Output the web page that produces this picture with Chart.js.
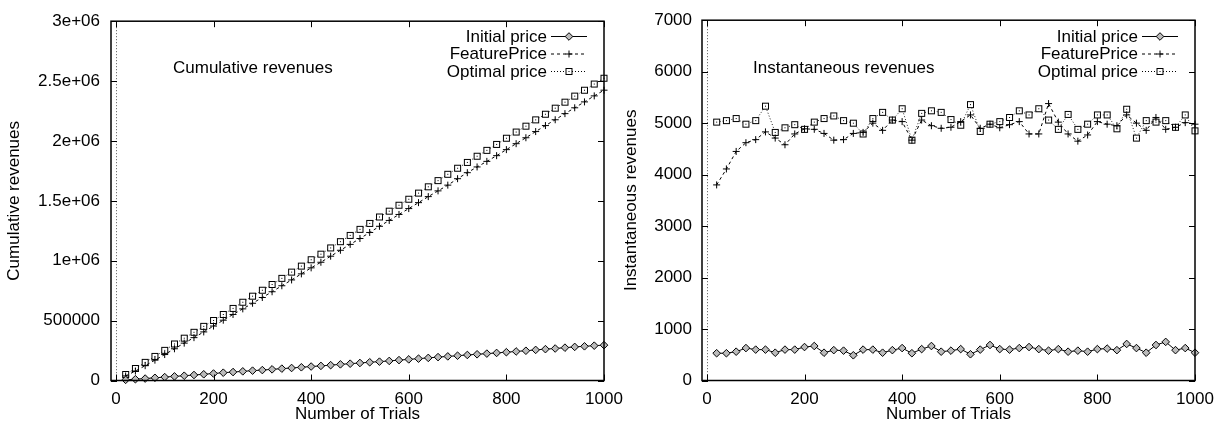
<!DOCTYPE html>
<html>
<head>
<meta charset="utf-8">
<script src="https://cdn.jsdelivr.net/npm/chart.js@4.4.1/dist/chart.umd.min.js"></script>
<style>
  html, body { margin: 0; padding: 0; background: #fff; }
  #wrap { position: relative; width: 1223px; height: 425px; overflow: hidden; }
  canvas { position: absolute; top: 0; }
</style>
</head>
<body>
<div id="wrap">
  <canvas id="cum" width="640" height="425" style="left:0px"></canvas>
  <canvas id="inst" width="603" height="425" style="left:620px"></canvas>
</div>
<script>
// x positions (number of trials)
const trials = [20, 40, 60, 80, 100, 120, 140, 160, 180, 200,
  220, 240, 260, 280, 300, 320, 340, 360, 380, 400,
  420, 440, 460, 480, 500, 520, 540, 560, 580, 600,
  620, 640, 660, 680, 700, 720, 740, 760, 780, 800,
  820, 840, 860, 880, 900, 920, 940, 960, 980, 1000];

// left panel: cumulative revenues
const cumInitial = [5300, 10600, 16200, 22500, 28500, 34500, 39900, 45900, 51900, 58400,
  65100, 70500, 76400, 82200, 87100, 93100, 99100, 104500, 110400, 116700,
  122000, 128100, 134800, 140400, 146200, 152300, 157400, 163400, 170300, 176400,
  182400, 188700, 195200, 201300, 207100, 213200, 218800, 224600, 230200, 236300,
  242500, 248400, 255500, 261800, 267200, 274100, 280600, 285500, 290800, 295200];
const cumFeature = [38000, 79100, 123600, 169800, 216600, 264900, 312000, 357800, 405700, 454600,
  503400, 551400, 598100, 644900, 692900, 741100, 791100, 839700, 890300, 940600,
  987300, 1037900, 1087400, 1136400, 1185600, 1235900, 1287500, 1336500, 1386300, 1435400,
  1485100, 1535400, 1583300, 1631200, 1685000, 1735200, 1783100, 1829600, 1877300, 1927600,
  1977400, 2026900, 2078500, 2128500, 2177100, 2228200, 2277000, 2326200, 2376300, 2424100];
const cumOptimal = [50200, 100700, 151600, 201400, 251900, 305200, 353400, 402500, 452200, 501000,
  551200, 602100, 653500, 704000, 754000, 801900, 852800, 904900, 955500, 1008300,
  1055000, 1106900, 1159300, 1211400, 1262100, 1311700, 1365300, 1413700, 1463500, 1513800,
  1564900, 1617300, 1668900, 1721700, 1772300, 1821100, 1872800, 1921600, 1971400, 2023000,
  2074600, 2123500, 2176200, 2223300, 2273800, 2324000, 2374500, 2423700, 2475300, 2523800];

// right panel: instantaneous revenues
const instInitial = [530, 530, 560, 630, 600, 600, 540, 600, 600, 650,
  670, 540, 590, 580, 490, 600, 600, 540, 590, 630,
  530, 610, 670, 560, 580, 610, 510, 600, 690, 610,
  600, 630, 650, 610, 580, 610, 560, 580, 560, 610,
  620, 590, 710, 630, 540, 690, 750, 590, 630, 540];
const instFeature = [3800, 4110, 4450, 4620, 4680, 4830, 4710, 4580, 4790, 4890,
  4880, 4800, 4670, 4680, 4800, 4820, 5000, 4860, 5060, 5030,
  4670, 5060, 4950, 4900, 4920, 5030, 5160, 4900, 4980, 4910,
  4970, 5030, 4790, 4790, 5380, 5020, 4790, 4650, 4770, 5030,
  4980, 4950, 5160, 5000, 4860, 5110, 4880, 4920, 5010, 4980];
const instOptimal = [5020, 5050, 5090, 4980, 5050, 5330, 4820, 4910, 4970, 4880,
  5020, 5090, 5140, 5050, 5000, 4790, 5090, 5210, 5060, 5280,
  4670, 5190, 5240, 5210, 5070, 4960, 5360, 4840, 4980, 5030,
  5110, 5240, 5160, 5280, 5060, 4880, 5170, 4880, 4980, 5160,
  5160, 4890, 5270, 4710, 5050, 5020, 5050, 4920, 5160, 4850];

const seriesNames = ['Initial price', 'FeaturePrice', 'Optimal price'];
const xTicks = [0, 200, 400, 600, 800, 1000];
const cumTicks = [0, 500000, 1000000, 1500000, 2000000, 2500000, 3000000];
const cumTickLabels = ['0', '500000', '1e+06', '1.5e+06', '2e+06', '2.5e+06', '3e+06'];
const instTicks = [0, 1000, 2000, 3000, 4000, 5000, 6000, 7000];
const instTickLabels = ['0', '1000', '2000', '3000', '4000', '5000', '6000', '7000'];

const FONT = '"Liberation Sans", Arial, sans-serif';
Chart.defaults.font.family = FONT;
Chart.defaults.font.size = 17;
Chart.defaults.color = '#000';

// open square with a dot in the middle (gnuplot style)
function squareMark() {
  const c = document.createElement('canvas');
  c.width = 9; c.height = 9;
  const g = c.getContext('2d');
  g.fillStyle = '#fff';
  g.fillRect(1, 1, 7, 7);
  g.strokeStyle = '#000';
  g.lineWidth = 1;
  g.strokeRect(1.5, 1.5, 6, 6);
  g.fillStyle = '#000';
  g.fillRect(4, 4, 1, 1);
  return c;
}
const SQUARE = squareMark();

function pairs(ys) {
  return ys.map((y, i) => ({ x: trials[i], y }));
}

const gnuplotFrame = {
  id: 'gnuplotFrame',
  beforeDatasetsDraw(chart) {
    const { ctx, chartArea: a, scales: { x } } = chart;
    const zx = Math.round(x.getPixelForValue(0)) + 0.5;
    ctx.save();
    ctx.strokeStyle = '#555';
    ctx.lineWidth = 1;
    ctx.setLineDash([1, 2]);
    ctx.beginPath();
    ctx.moveTo(zx, a.top);
    ctx.lineTo(zx, a.bottom);
    ctx.stroke();
    ctx.restore();
  },
  afterDatasetsDraw(chart) {
    const { ctx, chartArea: a, scales: { x, y } } = chart;
    const len = 6;
    ctx.save();
    ctx.strokeStyle = '#000';
    ctx.lineWidth = 1;
    ctx.beginPath();
    xTicks.forEach((v) => {
      const px = Math.round(x.getPixelForValue(v)) + 0.5;
      ctx.moveTo(px, a.bottom); ctx.lineTo(px, a.bottom - len);
      ctx.moveTo(px, a.top); ctx.lineTo(px, a.top + len);
    });
    y.ticks.forEach((t) => {
      const py = Math.round(y.getPixelForValue(t.value)) + 0.5;
      ctx.moveTo(a.left, py); ctx.lineTo(a.left + len, py);
      ctx.moveTo(a.right, py); ctx.lineTo(a.right - len, py);
    });
    ctx.stroke();
    ctx.lineWidth = 1.5;
    ctx.strokeRect(a.left, a.top, a.right - a.left, a.bottom - a.top);
    ctx.restore();
  },
  afterDraw(chart, args, opts) {
    const { ctx, chartArea: a } = chart;
    ctx.save();
    ctx.font = '17px ' + FONT;
    ctx.fillStyle = '#000';
    ctx.textBaseline = 'alphabetic';
    ctx.textAlign = 'left';
    ctx.fillText(opts.label, a.left + opts.labelDx, 73);

    // key, top right
    const textRight = a.right - 57;
    const x0 = a.right - 53, x1 = a.right - 17, mx = a.right - 35;
    const rows = [36, 53.5, 71];
    chart.data.datasets.forEach((ds, i) => {
      const ry = rows[i];
      ctx.textAlign = 'right';
      ctx.textBaseline = 'middle';
      ctx.fillStyle = '#000';
      ctx.fillText(ds.label, textRight, ry + 1);
      ctx.strokeStyle = '#000';
      ctx.lineWidth = 1;
      ctx.setLineDash(ds.borderDash || []);
      ctx.beginPath();
      ctx.moveTo(x0, ry + 0.5);
      ctx.lineTo(x1, ry + 0.5);
      ctx.stroke();
      ctx.setLineDash([]);
      ctx.fillStyle = ds.pointBackgroundColor || '#000';
      Chart.helpers.drawPoint(ctx, {
        pointStyle: ds.pointStyle,
        radius: ds.pointRadius,
        borderWidth: ds.pointBorderWidth,
        rotation: 0
      }, mx, ry + 0.5);
    });
    ctx.restore();
  }
};

function buildChart(id, cfg) {
  const canvas = document.getElementById(id);
  const datasets = [
    {
      label: seriesNames[0],
      data: pairs(cfg.series[0]),
      borderColor: '#000',
      borderWidth: 1,
      pointStyle: 'rectRot',
      pointRadius: 3.8,
      pointBackgroundColor: '#bbb',
      pointBorderColor: '#000',
      pointBorderWidth: 1
    },
    {
      label: seriesNames[1],
      data: pairs(cfg.series[1]),
      borderColor: '#000',
      borderWidth: 1,
      borderDash: [3, 3],
      pointStyle: 'cross',
      pointRadius: 3.5,
      pointBackgroundColor: '#000',
      pointBorderColor: '#000',
      pointBorderWidth: 1
    },
    {
      label: seriesNames[2],
      data: pairs(cfg.series[2]),
      borderColor: '#222',
      borderWidth: 1,
      borderDash: [1, 2],
      pointStyle: SQUARE,
      pointRadius: 4.5,
      pointBackgroundColor: '#000',
      pointBorderColor: '#000',
      pointBorderWidth: 1
    }
  ];
  datasets.forEach((d) => { d.clip = false; d.tension = 0; d.fill = false; });

  return new Chart(canvas, {
    type: 'line',
    data: { datasets },
    options: {
      responsive: false,
      animation: false,
      devicePixelRatio: 1,
      layout: { padding: { left: 0, top: 14, right: cfg.padRight, bottom: 0 } },
      plugins: {
        legend: { display: false },
        tooltip: { enabled: false },
        gnuplotFrame: { label: cfg.label, labelDx: cfg.labelDx }
      },
      scales: {
        x: {
          type: 'linear',
          min: -10,
          max: 1000,
          grid: { display: false, drawTicks: false },
          border: { display: false },
          afterBuildTicks: (s) => { s.ticks = xTicks.map((v) => ({ value: v })); },
          afterFit: (s) => { s.height = 44.5; },
          ticks: { padding: 9, maxRotation: 0, autoSkip: false, callback: (v) => String(v) },
          title: { display: true, text: 'Number of Trials', padding: { top: 0, bottom: 0 } }
        },
        y: {
          type: 'linear',
          min: cfg.ticks[0],
          max: cfg.ticks[cfg.ticks.length - 1],
          grid: { display: false, drawTicks: false },
          border: { display: false },
          afterBuildTicks: (s) => { s.ticks = cfg.ticks.map((v) => ({ value: v })); },
          afterFit: (s) => { s.width = cfg.yWidth; },
          ticks: { padding: cfg.yPad, autoSkip: false, callback: (v, i) => cfg.tickLabels[i] },
          title: { display: true, text: cfg.yTitle, padding: { top: cfg.yTitlePad, bottom: 0 } }
        }
      }
    },
    plugins: [gnuplotFrame]
  });
}

buildChart('cum', {
  series: [cumInitial, cumFeature, cumOptimal],
  ticks: cumTicks,
  tickLabels: cumTickLabels,
  yTitle: 'Cumulative revenues',
  label: 'Cumulative revenues',
  labelDx: 62,
  yWidth: 111,
  yPad: 11,
  yTitlePad: 4,
  padRight: 36
});

buildChart('inst', {
  series: [instInitial, instFeature, instOptimal],
  ticks: instTicks,
  tickLabels: instTickLabels,
  yTitle: 'Instantaneous revenues',
  label: 'Instantaneous revenues',
  labelDx: 51,
  yWidth: 82,
  yPad: 10,
  yTitlePad: 1,
  padRight: 28
});
</script>
</body>
</html>
